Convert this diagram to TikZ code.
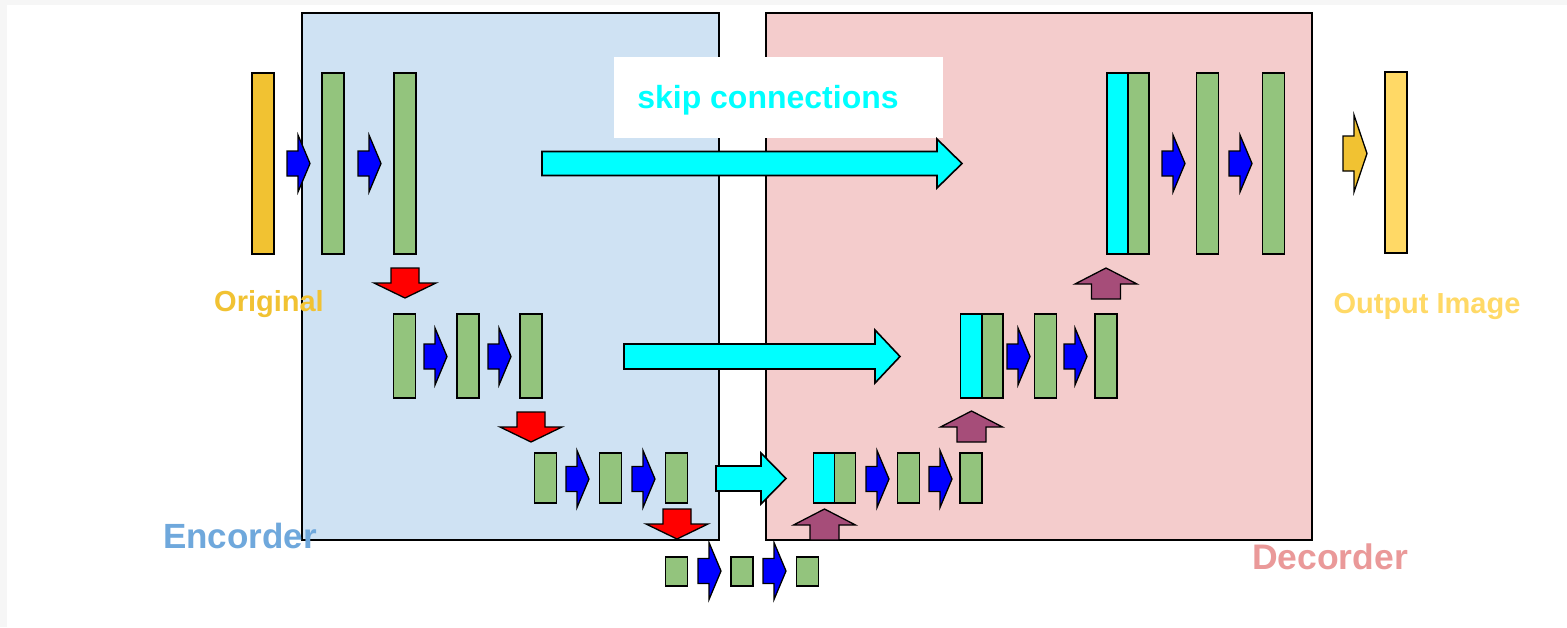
\documentclass[tikz,border=0pt]{standalone}
\usepackage{fontspec}
\setmainfont{Liberation Sans}

\definecolor{encfill}{HTML}{CFE2F3}
\definecolor{decfill}{HTML}{F4CCCC}
\definecolor{layergreen}{HTML}{93C47D}
\definecolor{inyellow}{HTML}{F1C232}
\definecolor{outyellow}{HTML}{FFD966}
\definecolor{convblue}{HTML}{0000FF}
\definecolor{poolred}{HTML}{FF0000}
\definecolor{upplum}{HTML}{A64D79}
\definecolor{skipcyan}{HTML}{00FFFF}
\definecolor{enctext}{HTML}{6FA8DC}
\definecolor{dectext}{HTML}{EA9999}
\definecolor{framegray}{HTML}{F6F6F6}

\begin{document}
\begin{tikzpicture}[x=1pt, y=-1pt,
  fmap/.style={draw=black, line width=1.6pt, fill=layergreen, inner sep=0pt,
               outer sep=0pt, minimum width=22pt},
  fmapcopy/.style={fmap, fill=skipcyan, minimum width=21pt},
  fmaphalf/.style={fmap, minimum width=21pt},
  rowA/.style={minimum height=181pt},
  rowB/.style={minimum height=84pt},
  rowC/.style={minimum height=50pt},
  rowD/.style={minimum height=29pt},
  stagepanel/.style={draw=black, line width=1.5pt, inner sep=0pt, outer sep=0pt,
                     anchor=north west},
  blockarrow/.style={draw=black, line width=1.3pt, line join=miter},
  convarrow/.style={blockarrow, fill=convblue},
  poolarrow/.style={blockarrow, fill=poolred},
  uparrow/.style={blockarrow, fill=upplum},
  skiparrow/.style={blockarrow, fill=skipcyan, line width=1.6pt},
  outarrow/.style={blockarrow, fill=inyellow},
  caption/.style={inner sep=0pt, anchor=base},
  fwd/.pic={\path[convarrow] (0,-12.5) -- (11,-12.5) -- (11,-28.5) -- (23,0)
            -- (11,28.5) -- (11,12.5) -- (0,12.5) -- cycle;},
  poolstep/.pic={\path[poolarrow] (-14,0) -- (14,0) -- (14,15) -- (31,15) -- (0,30)
            -- (-31,15) -- (-14,15) -- cycle;},
  upstep/.pic={\path[uparrow] (-14.5,0) -- (14.5,0) -- (14.5,-15) -- (31,-15)
            -- (0,-31) -- (-31,-15) -- (-14.5,-15) -- cycle;},
]
\useasboundingbox (0,0) rectangle (1567,627);

% page frame
\fill[framegray] (0,0) rectangle (1567,627);
\fill[white] (7,5) rectangle (1567,627);

% encoder and decoder panels
\node[stagepanel, fill=encfill, minimum width=417pt, minimum height=527pt] (enc) at (302,13) {};
\node[stagepanel, fill=decfill, minimum width=546pt, minimum height=527pt] (dec) at (766,13) {};

% white box behind the skip label
\node[fill=white, inner sep=0pt, minimum width=329pt, minimum height=81pt, anchor=north west] (skipbox) at (614,57) {};

% ---- feature maps, level 1
\node[fmap, rowA, fill=inyellow] (inimg) at (263,163.5) {};
\node[fmap, rowA] (e1a) at (333,163.5) {};
\node[fmap, rowA] (e1b) at (405,163.5) {};
\node[fmapcopy, rowA] (d1c) at (1117.5,163.5) {};
\node[fmaphalf, rowA] (d1a) at (1138.5,163.5) {};
\node[fmap, rowA] (d1b) at (1207.5,163.5) {};
\node[fmap, rowA] (d1d) at (1273.5,163.5) {};
\node[fmap, rowA, fill=outyellow] (outimg) at (1396,162.5) {};

% ---- level 2
\node[fmap, rowB] (e2a) at (404.5,356) {};
\node[fmap, rowB] (e2b) at (468,356) {};
\node[fmap, rowB] (e2c) at (531,356) {};
\node[fmapcopy, rowB] (d2c) at (971,356) {};
\node[fmaphalf, rowB] (d2a) at (992.5,356) {};
\node[fmap, rowB] (d2b) at (1045.5,356) {};
\node[fmap, rowB] (d2d) at (1106,356) {};

% ---- level 3
\node[fmap, rowC] (e3a) at (545.5,478) {};
\node[fmap, rowC] (e3b) at (610.5,478) {};
\node[fmap, rowC] (e3c) at (676.5,478) {};
\node[fmapcopy, rowC] (d3c) at (824,478) {};
\node[fmaphalf, rowC] (d3a) at (845,478) {};
\node[fmap, rowC] (d3b) at (908.5,478) {};
\node[fmap, rowC] (d3d) at (971,478) {};

% ---- bottleneck
\node[fmap, rowD] (b1) at (676.5,571.5) {};
\node[fmap, rowD] (b2) at (742,571.5) {};
\node[fmap, rowD] (b3) at (807.5,571.5) {};

% convolution arrows
\pic at (287,163.5) {fwd};
\pic at (358,163.5) {fwd};
\pic at (1162,163.5) {fwd};
\pic at (1229,163.5) {fwd};
\pic at (424,356.5) {fwd};
\pic at (488,356.5) {fwd};
\pic at (1007,356.5) {fwd};
\pic at (1064,356.5) {fwd};
\pic at (566,479) {fwd};
\pic at (632,479) {fwd};
\pic at (866,479) {fwd};
\pic at (929,479) {fwd};
\pic at (698,571) {fwd};
\pic at (763,571) {fwd};

% pooling (down) arrows
\pic at (405,268) {poolstep};
\pic at (531,412) {poolstep};
\pic at (677,509) {poolstep};

% up-convolution arrows
\pic at (1106,299) {upstep};
\pic at (971.5,442) {upstep};
\pic at (824.5,540) {upstep};

% skip connections
\path[skiparrow] (542,151.5) -- (937,151.5) -- (937,139) -- (962,163.5)
  -- (937,188) -- (937,175.5) -- (542,175.5) -- cycle;
\path[skiparrow] (624,344) -- (875,344) -- (875,330) -- (900,356.5)
  -- (875,383) -- (875,369) -- (624,369) -- cycle;
\path[skiparrow] (716,466) -- (761,466) -- (761,453) -- (786,478.5)
  -- (761,504) -- (761,491) -- (716,491) -- cycle;

% output arrow
\path[outarrow] (1343,136) -- (1354,136) -- (1354,115) -- (1367,153.5)
  -- (1354,192) -- (1354,171) -- (1343,171) -- cycle;

% captions
\node[caption, text=skipcyan, font=\bfseries\fontsize{32}{32}\selectfont] (skiplbl) at (768,108) {skip connections};
\node[caption, text=inyellow, font=\bfseries\fontsize{29}{29}\selectfont] (inlbl) at (269,311) {Original};
\node[caption, text=outyellow, font=\bfseries\fontsize{29}{29}\selectfont] (outlbl) at (1427,313) {Output Image};
\node[caption, text=enctext, font=\bfseries\fontsize{35}{35}\selectfont] (enclbl) at (240,548) {Encorder};
\node[caption, text=dectext, font=\bfseries\fontsize{35.5}{35.5}\selectfont] (declbl) at (1330,569) {Decorder};
\end{tikzpicture}
\end{document}
